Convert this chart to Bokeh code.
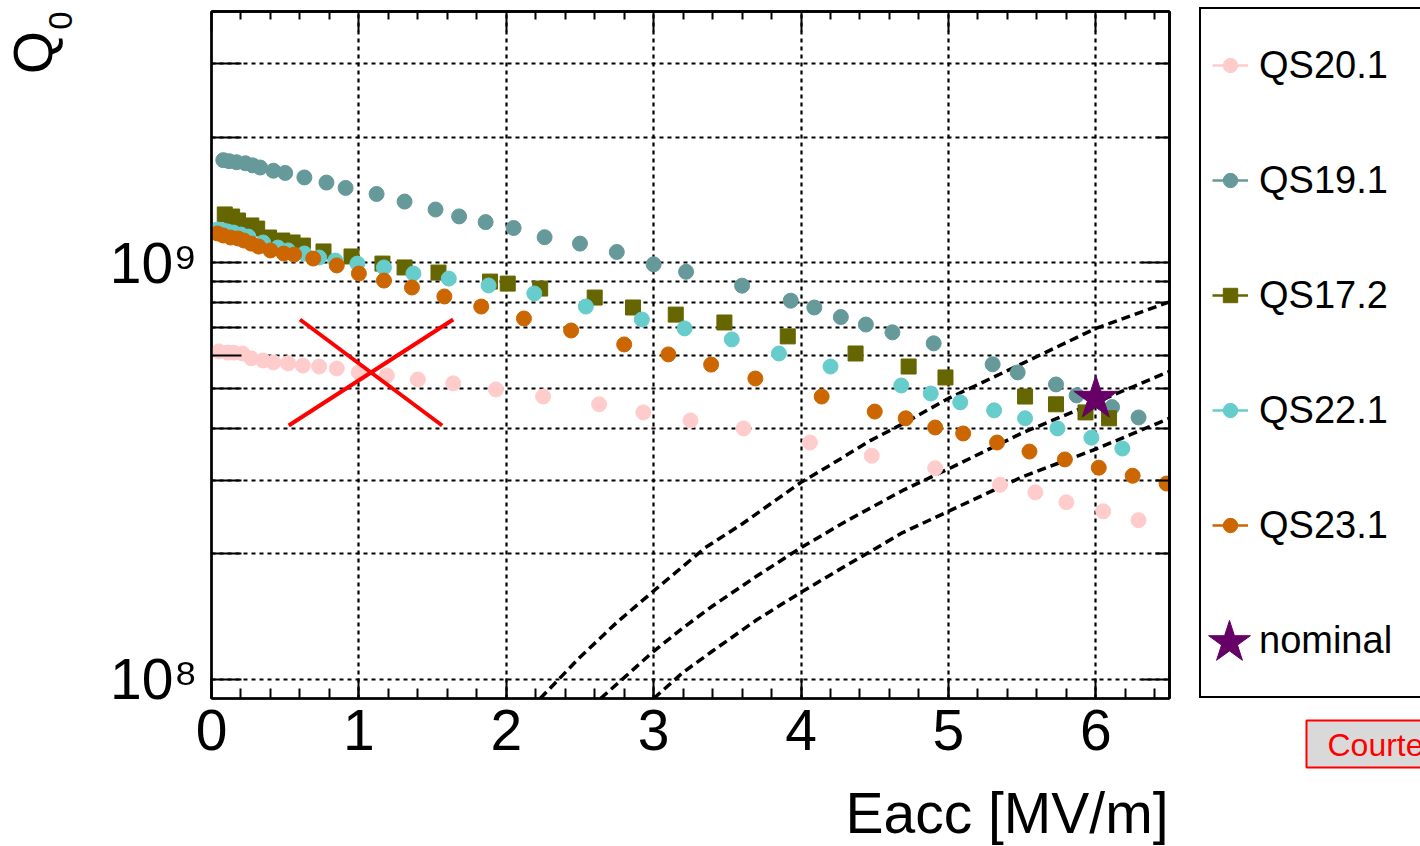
import numpy as np
from bokeh.plotting import figure
from bokeh.layouts import row, column
from bokeh.models import (Range1d, LinearAxis, LogAxis, FixedTicker, SingleIntervalTicker,
                          Legend, LegendItem, Label, BoxAnnotation)
from bokeh.embed import file_html
from bokeh.resources import INLINE

FONT = "Liberation Sans"

# ---------------- data (Eacc in MV/m, Q0 in units of 1e9) ----------------
qs20_e = [0.05, 0.11, 0.15, 0.21, 0.27, 0.35, 0.42, 0.52, 0.62, 0.73, 0.85, 1.00, 1.19, 1.40,
          1.64, 1.93, 2.25, 2.63, 2.93, 3.25, 3.61, 4.06, 4.48, 4.91, 5.35, 5.59, 5.80, 6.05, 6.29]
qs20_q = [0.612, 0.608, 0.608, 0.605, 0.589, 0.582, 0.576, 0.573, 0.566, 0.563, 0.557, 0.545, 0.536,
          0.524, 0.513, 0.496, 0.477, 0.457, 0.437, 0.418, 0.400, 0.370, 0.344, 0.321, 0.293, 0.281,
          0.266, 0.253, 0.241]

qs19_e = [0.08, 0.12, 0.17, 0.23, 0.28, 0.33, 0.42, 0.50, 0.63, 0.78, 0.91, 1.12, 1.31, 1.52, 1.68,
          1.86, 2.05, 2.26, 2.50, 2.75, 3.00, 3.22, 3.60, 3.93, 4.09, 4.27, 4.44, 4.62, 4.90, 5.30,
          5.47, 5.73, 5.87, 6.11, 6.29]
qs19_q = [1.76, 1.75, 1.74, 1.73, 1.71, 1.69, 1.66, 1.64, 1.60, 1.555, 1.51, 1.46, 1.40, 1.34, 1.29,
          1.25, 1.21, 1.15, 1.11, 1.06, 0.99, 0.95, 0.88, 0.81, 0.78, 0.74, 0.71, 0.68, 0.64, 0.57,
          0.545, 0.51, 0.48, 0.45, 0.425]

qs17_e = [0.09, 0.14, 0.18, 0.27, 0.31, 0.39, 0.48, 0.55, 0.62, 0.76, 0.95, 1.16, 1.31, 1.54, 1.89,
          2.01, 2.23, 2.60, 2.86, 3.15, 3.48, 3.91, 4.37, 4.73, 4.98, 5.52, 5.73, 5.93, 6.09]
qs17_q = [1.304, 1.289, 1.261, 1.227, 1.206, 1.148, 1.129, 1.117, 1.098, 1.063, 1.034, 0.994, 0.973,
          0.946, 0.900, 0.890, 0.866, 0.824, 0.780, 0.750, 0.718, 0.665, 0.605, 0.563, 0.530, 0.477,
          0.457, 0.437, 0.423]

qs22_e = [0.04, 0.08, 0.11, 0.15, 0.20, 0.25, 0.35, 0.45, 0.52, 0.63, 0.73, 0.84, 0.99, 1.17, 1.37,
          1.61, 1.88, 2.19, 2.54, 2.92, 3.21, 3.53, 3.85, 4.20, 4.68, 4.88, 5.08, 5.31, 5.52, 5.74,
          5.97, 6.18]
qs22_q = [1.200, 1.193, 1.187, 1.180, 1.167, 1.154, 1.117, 1.086, 1.069, 1.051, 1.028, 1.011, 0.994,
          0.973, 0.941, 0.915, 0.881, 0.843, 0.784, 0.730, 0.695, 0.654, 0.605, 0.563, 0.507, 0.485,
          0.462, 0.442, 0.423, 0.400, 0.380, 0.358]

qs23_e = [0.04, 0.08, 0.13, 0.18, 0.22, 0.27, 0.32, 0.40, 0.49, 0.56, 0.69, 0.85, 1.00, 1.17, 1.36,
          1.58, 1.83, 2.12, 2.44, 2.80, 3.10, 3.39, 3.69, 4.14, 4.50, 4.71, 4.91, 5.10, 5.33, 5.55,
          5.79, 6.02, 6.25, 6.48]
qs23_q = [1.174, 1.161, 1.148, 1.142, 1.129, 1.110, 1.092, 1.069, 1.051, 1.045, 1.022, 0.984, 0.941,
          0.905, 0.871, 0.829, 0.784, 0.734, 0.687, 0.636, 0.602, 0.569, 0.527, 0.477, 0.439, 0.423,
          0.402, 0.389, 0.370, 0.352, 0.337, 0.322, 0.308, 0.295]

nominal_e = [6.0]
nominal_q = [0.472]

# dashed limit curves
lim1_e = [2.23, 2.5, 2.75, 3.0, 3.35, 3.6, 4.0, 4.2, 4.47, 4.7, 5.0, 5.5, 6.0, 6.5]
lim1_q = [0.090, 0.113, 0.137, 0.163, 0.207, 0.236, 0.297, 0.327, 0.374, 0.412, 0.472, 0.572,
          0.695, 0.805]
lim2_e = [2.64, 2.8, 2.99, 3.2, 3.4, 3.7, 3.99, 4.3, 4.69, 5.01, 5.5, 6.0, 6.5]
lim2_q = [0.090, 0.101, 0.116, 0.133, 0.150, 0.177, 0.206, 0.239, 0.284, 0.321, 0.390, 0.462,
          0.548]
lim3_e = [3.0, 3.2, 3.4, 3.7, 3.99, 4.3, 4.69, 5.01, 5.5, 6.01, 6.5]
lim3_q = [0.090, 0.104, 0.117, 0.139, 0.161, 0.187, 0.225, 0.254, 0.306, 0.358, 0.423]

# red cross annotation
cross1_e = [0.60, 1.565]
cross1_q = [0.730, 0.4065]
cross2_e = [0.524, 1.64]
cross2_q = [0.4065, 0.730]

series_names = ["QS20.1", "QS19.1", "QS17.2", "QS22.1", "QS23.1"]
series_colors = ["#ffcccc", "#669999", "#666600", "#66cccc", "#cc6600"]
series_markers = ["circle", "circle", "square", "circle", "circle"]
series_e = [qs20_e, qs19_e, qs17_e, qs22_e, qs23_e]
series_q = [qs20_q, qs19_q, qs17_q, qs22_q, qs23_q]
star_color = "#660066"

x_major_top = [0, 1, 2, 3, 4, 5, 6]
x_minor_top = [0.2, 0.4, 0.6, 0.8, 1.2, 1.4, 1.6, 1.8, 2.2, 2.4, 2.6, 2.8, 3.2, 3.4, 3.6, 3.8,
               4.2, 4.4, 4.6, 4.8, 5.2, 5.4, 5.6, 5.8, 6.2, 6.4]
y_major = [1e8, 1e9]
y_minor = [2e8, 3e8, 4e8, 5e8, 6e8, 7e8, 8e8, 9e8, 2e9, 3e9]
y_labels = {100000000: "10\u2078", 1000000000: "10\u2079"}

SCALE = 1e9

# ---------------- page geometry (px) ----------------
LEFT_W = 90          # strip holding the rotated Q0 title
MAIN_W = 1090        # main plot
RIGHT_W = 240        # legend strip
MAIN_H = 775
BOTTOM_H = 71        # strip holding the x title
TOTAL_H = MAIN_H + BOTTOM_H


def blank(width, height):
    f = figure(width=width, height=height, x_range=Range1d(0, width), y_range=Range1d(0, height),
               output_backend="svg", toolbar_location=None, min_border=0,
               x_axis_location=None, y_axis_location=None,
               background_fill_color="white", border_fill_color="white")
    f.outline_line_color = None
    f.grid.visible = False
    return f


# ---------------- main figure ----------------
p = figure(width=MAIN_W, height=MAIN_H, x_range=Range1d(0, 6.5), y_range=Range1d(9e7, 4e9),
           y_axis_type="log", output_backend="svg", toolbar_location=None,
           min_border_left=121, min_border_right=11, min_border_top=11, min_border_bottom=77,
           background_fill_color="white", border_fill_color="white")
p.outline_line_color = "black"
p.outline_line_width = 2

xt = SingleIntervalTicker(interval=1, num_minor_ticks=5)
yt = FixedTicker(ticks=y_major, minor_ticks=y_minor)

xa = p.xaxis[0]
xa.ticker = xt
xa.major_tick_in = 20
xa.major_tick_out = 0
xa.minor_tick_in = 10
xa.minor_tick_out = 0
xa.axis_line_width = 2.5
xa.major_tick_line_width = 2
xa.minor_tick_line_width = 2
xa.major_label_text_font = FONT
xa.major_label_text_font_size = "57px"
xa.major_label_text_color = "black"
xa.major_label_standoff = 11

ya = p.yaxis[0]
ya.ticker = yt
ya.major_label_overrides = y_labels
ya.major_tick_in = 30
ya.major_tick_out = 0
ya.minor_tick_in = 30
ya.minor_tick_out = 0
ya.axis_line_width = 2.5
ya.major_tick_line_width = 2
ya.minor_tick_line_width = 2
ya.major_label_text_font = FONT
ya.major_label_text_font_size = "57px"
ya.major_label_text_color = "black"
ya.major_label_standoff = 14

# mirrored tick marks (no labels): only minor ticks are used, so nothing is written
for ticks, length in [(x_major_top, 20), (x_minor_top, 8)]:
    ax = LinearAxis(ticker=FixedTicker(ticks=[], minor_ticks=ticks), major_label_standoff=0,
                    major_tick_in=0, major_tick_out=0, minor_tick_in=length, minor_tick_out=0,
                    axis_line_width=2.5, minor_tick_line_width=2)
    p.add_layout(ax, "above")
for ticks, length in [(y_major, 28), (y_minor, 14)]:
    ax = LogAxis(ticker=FixedTicker(ticks=[], minor_ticks=ticks), major_label_standoff=0,
                 major_tick_in=0, major_tick_out=0, minor_tick_in=length, minor_tick_out=0,
                 axis_line_width=2.5, minor_tick_line_width=2)
    p.add_layout(ax, "right")

p.xgrid.ticker = xt
p.ygrid.ticker = yt
for g in (p.xgrid, p.ygrid):
    g.grid_line_color = "black"
    g.grid_line_width = 2.2
    g.grid_line_dash = "4 4"
p.ygrid.minor_grid_line_color = "black"
p.ygrid.minor_grid_line_width = 2.2
p.ygrid.minor_grid_line_dash = "4 4"

# dashed curves
for le, lq in [(lim1_e, lim1_q), (lim2_e, lim2_q), (lim3_e, lim3_q)]:
    p.line(le, np.array(lq) * SCALE, line_color="black", line_width=3.5, line_dash="9 5")

# series
for col, mk, e, q in zip(series_colors, series_markers, series_e, series_q):
    p.scatter(e, np.array(q) * SCALE, marker=mk, size=15, fill_color=col, line_color=col)

p.scatter(nominal_e, np.array(nominal_q) * SCALE, marker="star", size=46,
          fill_color=star_color, line_color=star_color)

# red cross
p.line(cross1_e, np.array(cross1_q) * SCALE, line_color="#ff0000", line_width=4)
p.line(cross2_e, np.array(cross2_q) * SCALE, line_color="#ff0000", line_width=4)

# ---------------- left strip: y title ----------------
left = blank(LEFT_W, TOTAL_H)
left.add_layout(Label(x=32, y=TOTAL_H - 52, x_units="screen", y_units="screen", text="Q",
                      angle=np.pi / 2, text_align="center", text_baseline="middle",
                      text_font=FONT, text_font_size="55px", text_color="black"))
left.add_layout(Label(x=60, y=TOTAL_H - 20, x_units="screen", y_units="screen", text="0",
                      angle=np.pi / 2, text_align="center", text_baseline="middle",
                      text_font=FONT, text_font_size="33px", text_color="black"))

# ---------------- bottom strip: x title ----------------
# (its frame is aligned with the main frame by the column layout: x measured from page x=211)
bottom = blank(MAIN_W, BOTTOM_H)
bottom.add_layout(Label(x=957, y=34, x_units="screen", y_units="screen", text="Eacc [MV/m]",
                        text_align="right", text_baseline="middle", text_font=FONT,
                        text_font_size="57px", text_color="black"))

# ---------------- right strip: legend + courtesy box ----------------
right = blank(RIGHT_W, TOTAL_H)
items = []
for name, col, mk, e, q in zip(series_names, series_colors, series_markers, series_e, series_q):
    qv = np.array(q) * SCALE
    rl = right.line(e, qv, line_color=col, line_width=2.5, visible=False)
    rs = right.scatter(e, qv, marker=mk, size=14, fill_color=col, line_color=col, visible=False)
    items.append(LegendItem(label=name, renderers=[rl, rs]))
rstar = right.scatter(nominal_e, np.array(nominal_q) * SCALE, marker="star", size=44,
                      fill_color=star_color, line_color=star_color, visible=False)
items.append(LegendItem(label="nominal", renderers=[rstar]))

legend = Legend(items=items, location=(19, TOTAL_H - 698), orientation="vertical",
                glyph_width=36, glyph_height=90, label_height=90, label_width=300,
                spacing=25, padding=11, margin=0, label_standoff=11,
                label_text_font=FONT, label_text_font_size="38px", label_text_color="black",
                border_line_color="black", border_line_width=2, border_line_alpha=1.0,
                background_fill_color="white", background_fill_alpha=1.0)
right.add_layout(legend)

# large star symbol for the "nominal" entry (legend markers scale with the glyph box)
legend_star = Legend(items=[LegendItem(label=" ", renderers=[rstar])],
                     location=(49 - 55, TOTAL_H - 642 - 55),
                     glyph_width=110, glyph_height=110, label_height=110, label_width=1,
                     padding=0, margin=0, label_standoff=0, label_text_font_size="10px",
                     border_line_color=None, background_fill_alpha=0.0)
right.add_layout(legend_star)

right.add_layout(BoxAnnotation(left=126, right=400, bottom=TOTAL_H - 767, top=TOTAL_H - 720,
                               left_units="screen", right_units="screen",
                               bottom_units="screen", top_units="screen",
                               fill_color="#d9d9d9", fill_alpha=1.0,
                               line_color="#ff0000", line_width=2, line_alpha=1.0))
right.add_layout(Label(x=147, y=TOTAL_H - 744, x_units="screen", y_units="screen",
                       text="Courtesy", text_align="left", text_baseline="middle",
                       text_font=FONT, text_font_size="32px", text_color="#ff0000"))

layout = row(left, column(p, bottom), right)
open("out.html", "w").write(file_html(layout, INLINE))
